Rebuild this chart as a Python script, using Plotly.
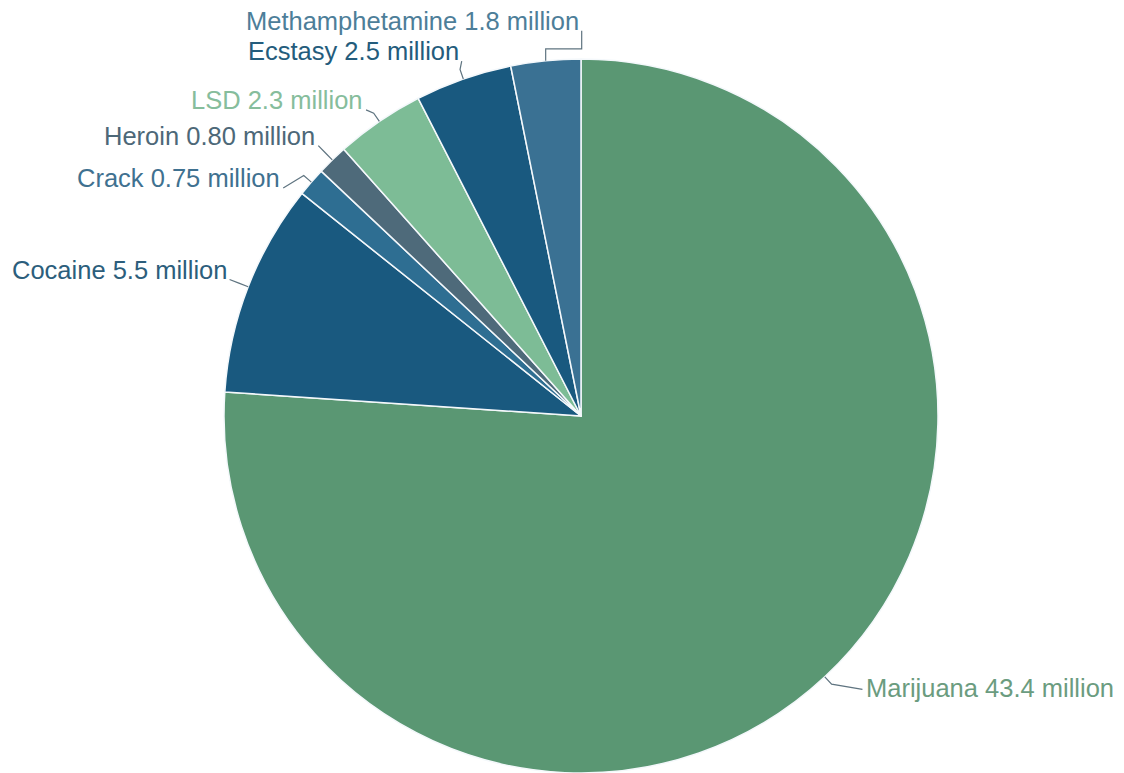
import math
import plotly.graph_objects as go

# ---- data ----
drugs = ["Marijuana", "Cocaine", "Crack", "Heroin", "LSD", "Ecstasy", "Methamphetamine"]
users_millions = [43.4, 5.5, 0.75, 0.80, 2.3, 2.5, 1.8]
value_text = ["43.4", "5.5", "0.75", "0.80", "2.3", "2.5", "1.8"]

# ---- styles ----
slice_colors = ["#5a9773", "#19597f", "#2e6e92", "#4e6a7a", "#7dbc96", "#19597f", "#3a7193"]
text_colors = ["#6b9c7f", "#2c5e7c", "#3f7190", "#4d6878", "#86bd9c", "#245c7c", "#4d7e99"]

W, H = 1124, 773
OFF = 8                            # page body margin
CX, CY, R = 581 - OFF, 416 - OFF, 357   # pie centre / radius in figure pixels
LEADER = 20                        # radial length of leader line in px
# layout nudges for label anchors (px) to avoid overlaps
nudge = {"Crack": (-13, 19), "Methamphetamine": (38, -10), "Marijuana": (24, -2),
         "LSD": (-2, 5), "Ecstasy": (5, 1)}
bracket = {"Methamphetamine"}

def px(x):
    return x / W

def py(y):
    return 1 - y / H

fig = go.Figure(go.Pie(
    labels=drugs, values=users_millions, sort=False, direction="clockwise", rotation=0,
    marker=dict(colors=slice_colors, line=dict(color="#f4f8fb", width=1.5)),
    textinfo="none", hoverinfo="label+value", showlegend=False,
    domain=dict(x=[px(CX - R), px(CX + R)], y=[max(0, py(CY + R)), py(CY - R)]),
))

total = sum(users_millions)
cum = 0.0
shapes = []
annotations = []
for name, v, vt, tc in zip(drugs, users_millions, value_text, text_colors):
    mid = (cum + v / 2) / total * 2 * math.pi
    cum += v
    s, c = math.sin(mid), math.cos(mid)
    ex, ey = CX + R * s, CY - R * c
    mx, my = CX + (R + LEADER * 0.5) * s, CY - (R + LEADER * 0.5) * c
    lx, ly = CX + (R + LEADER) * s, CY - (R + LEADER) * c
    dx, dy = nudge.get(name, (0, 0))
    lx, ly = lx + dx, ly + dy
    if name in bracket:
        midy = (ey + ly) / 2 + 3
        pts = [(ex, ey), (ex, midy), (lx, midy), (lx, ly)]
    else:
        pts = [(ex, ey), (mx, my), (lx, ly)]
    path = "M " + " L ".join(f"{px(a):.5f},{py(b):.5f}" for a, b in pts)
    shapes.append(dict(type="path", xref="paper", yref="paper", path=path,
                       line=dict(color="#5f7480", width=1.2)))
    left_side = s < 0 or name in bracket
    annotations.append(dict(
        xref="paper", yref="paper", showarrow=False,
        x=px(lx - 1) if left_side else px(lx + 2),
        y=py(ly - 10) if left_side else py(ly - 1),
        xanchor="right" if left_side else "left", yanchor="middle",
        text=f"{name} {vt} million",
        font=dict(family="Arial, Liberation Sans, sans-serif", size=25.5, color=tc),
    ))

fig.update_layout(
    width=W, height=H, autosize=False,
    margin=dict(l=0, r=0, t=0, b=0),
    paper_bgcolor="white", plot_bgcolor="white",
    shapes=shapes, annotations=annotations,
)
fig.write_html("out.html")
